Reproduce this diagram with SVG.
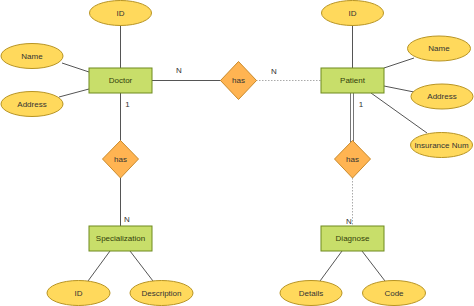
<svg xmlns="http://www.w3.org/2000/svg" width="474" height="306" viewBox="0 0 474 306">
<style>
.attr{fill:#FFD95C;stroke:#B89422;stroke-width:1}
.ent{fill:#C8DE6A;stroke:#6E8A1E;stroke-width:1}
.rel{fill:#FFB452;stroke:#C98A2A;stroke-width:1}
.t{font-family:"Liberation Sans",Arial,sans-serif;font-size:8px;text-anchor:middle;dominant-baseline:central;fill:#333}
.te{fill:#33400A}
.lbl{font-family:"Liberation Sans",Arial,sans-serif;font-size:8px;text-anchor:middle;dominant-baseline:central;fill:#333}
.c{stroke:#555;stroke-width:1;fill:none}
.d{stroke:#AAA;stroke-width:1;stroke-dasharray:1.5 1.5;fill:none}
</style>
<rect width="474" height="306" fill="#fff"/>
<g id="connectors">
<line class="c" x1="120.5" y1="25" x2="120.5" y2="68"/>
<line class="c" x1="62" y1="63" x2="89" y2="72"/>
<line class="c" x1="59" y1="97" x2="89" y2="89"/>
<line class="c" x1="152" y1="80.5" x2="221" y2="80.5"/>
<line class="c" x1="120.5" y1="93" x2="120.5" y2="141"/>
<line class="c" x1="120.5" y1="178" x2="120.5" y2="226"/>
<line class="c" x1="110" y1="251" x2="88" y2="281"/>
<line class="c" x1="130" y1="251" x2="153" y2="281"/>
<line class="d" x1="256" y1="80.5" x2="321" y2="80.5"/>
<line class="c" x1="352.5" y1="25" x2="352.5" y2="68"/>
<line class="c" x1="384" y1="68" x2="414" y2="58"/>
<line class="c" x1="384" y1="86" x2="414" y2="92"/>
<line class="c" x1="371" y1="93" x2="427" y2="133"/>
<line x1="352" y1="93" x2="352" y2="142" stroke="#777" stroke-width="4"/>
<line x1="352" y1="93" x2="352" y2="142" stroke="#fff" stroke-width="2"/>
<line class="d" x1="352.5" y1="178" x2="352.5" y2="226"/>
<line class="c" x1="342" y1="251" x2="320" y2="281"/>
<line class="c" x1="362" y1="251" x2="385" y2="281"/>
</g>
<g id="lbls">
<text class="lbl" x="179" y="70">N</text>
<text class="lbl" x="127.5" y="104">1</text>
<text class="lbl" x="127" y="219">N</text>
<text class="lbl" x="274" y="71">N</text>
<text class="lbl" x="361" y="104">1</text>
<text class="lbl" x="349" y="221">N</text>
</g>
<g id="doctor"><rect class="ent" x="89" y="68" width="63" height="25"/><text class="t te" x="120.5" y="80.5">Doctor</text></g>
<g id="doctor_id"><ellipse class="attr" cx="120.5" cy="13" rx="31" ry="12.5"/><text class="t" x="120.5" y="13">ID</text></g>
<g id="doctor_name"><ellipse class="attr" cx="32" cy="56" rx="31" ry="12.5"/><text class="t" x="32" y="56">Name</text></g>
<g id="doctor_address"><ellipse class="attr" cx="32" cy="104" rx="31" ry="12.5"/><text class="t" x="32" y="104">Address</text></g>
<g id="has_mid"><polygon class="rel" points="238.5,61.5 256.5,80.5 238.5,99.5 220.5,80.5"/><text class="t" x="238.5" y="80.5">has</text></g>
<g id="has_left"><polygon class="rel" points="120.5,140.5 138.5,159 120.5,178 102.5,159"/><text class="t" x="120.5" y="159">has</text></g>
<g id="specialization"><rect class="ent" x="89" y="226" width="63" height="25"/><text class="t te" x="120.5" y="238.5">Specialization</text></g>
<g id="spec_id"><ellipse class="attr" cx="78.5" cy="293" rx="31.5" ry="12.5"/><text class="t" x="78.5" y="293">ID</text></g>
<g id="spec_desc"><ellipse class="attr" cx="161.5" cy="293" rx="31.5" ry="12.5"/><text class="t" x="161.5" y="293">Description</text></g>
<g id="patient"><rect class="ent" x="321" y="68" width="63" height="25"/><text class="t te" x="352.5" y="80.5">Patient</text></g>
<g id="patient_id"><ellipse class="attr" cx="352.5" cy="13" rx="31" ry="12.5"/><text class="t" x="352.5" y="13">ID</text></g>
<g id="patient_name"><ellipse class="attr" cx="439" cy="48.5" rx="31.5" ry="12.5"/><text class="t" x="439" y="48.5">Name</text></g>
<g id="patient_address"><ellipse class="attr" cx="442" cy="96.5" rx="31" ry="12.5"/><text class="t" x="442" y="96.5">Address</text></g>
<g id="patient_ins"><ellipse class="attr" cx="441.5" cy="145" rx="31" ry="12.5"/><text class="t" x="441.5" y="145">Insurance Num</text></g>
<g id="has_right"><polygon class="rel" points="352.5,140.5 370.5,159 352.5,178 334.5,159"/><text class="t" x="352.5" y="159">has</text></g>
<g id="diagnose"><rect class="ent" x="321" y="226" width="63" height="25"/><text class="t te" x="352.5" y="238.5">Diagnose</text></g>
<g id="diag_details"><ellipse class="attr" cx="311" cy="293" rx="31" ry="12.5"/><text class="t" x="311" y="293">Details</text></g>
<g id="diag_code"><ellipse class="attr" cx="394" cy="293" rx="31.5" ry="12.5"/><text class="t" x="394" y="293">Code</text></g>
</svg>
